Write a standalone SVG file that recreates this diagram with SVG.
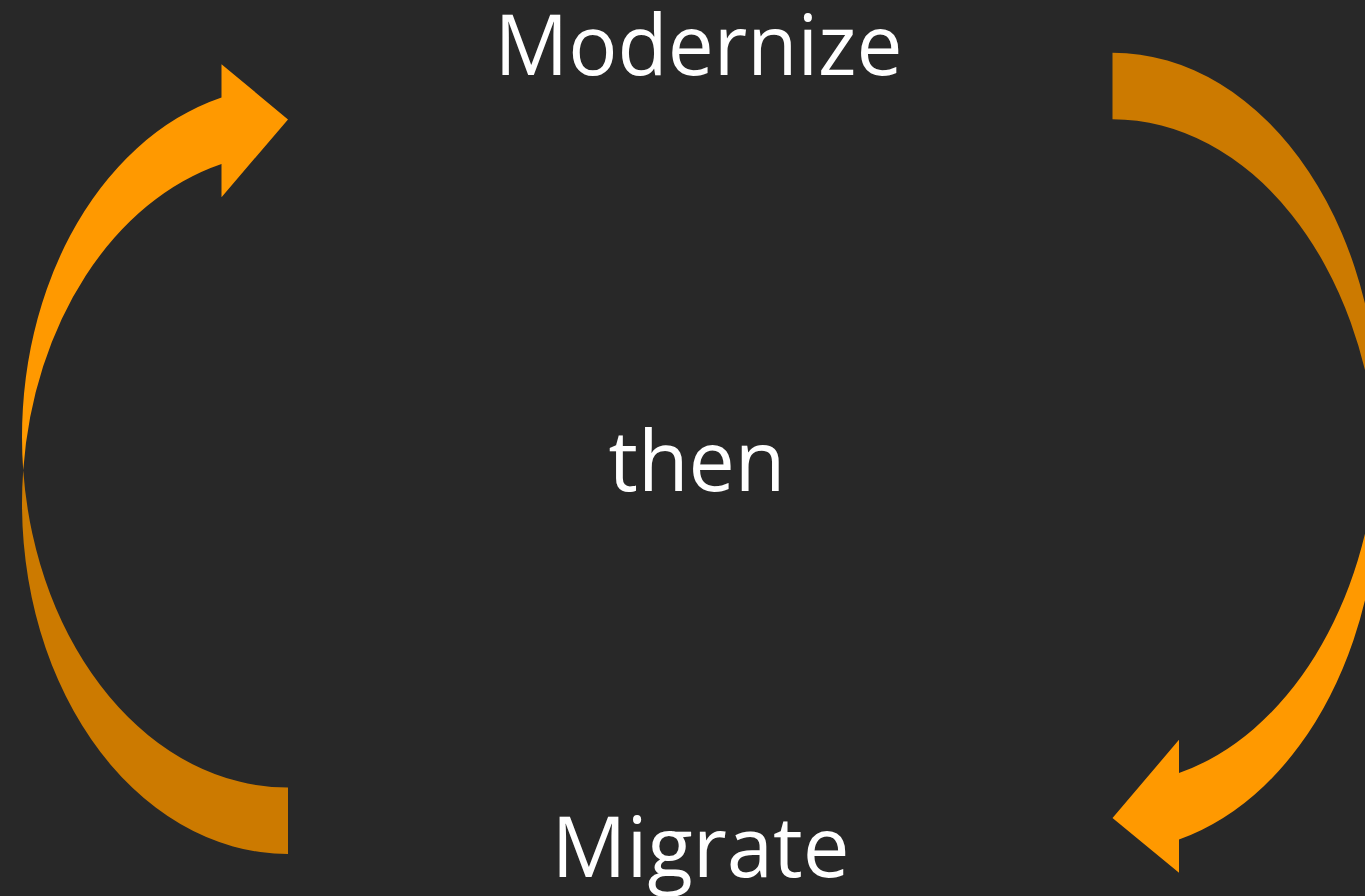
<svg xmlns="http://www.w3.org/2000/svg" width="1365" height="896" viewBox="0 0 1365 896">
  <style>
    .bg { fill: #282828; }
    .lbl { font-family: "Open Sans", "Noto Sans", "Liberation Sans", sans-serif; font-size: 85px; fill: #ffffff; text-anchor: middle; }
    .front { fill: #FF9900; }
    .back { fill: #CC7A00; }
  </style>
  <rect class="bg" x="0" y="0" width="1365" height="896"/>
  <g id="connectors">
    <g id="arrow-left">
      <path class="back" d="M288,854 A266,350.625 0 0 1 23.2,470.125 A266,350.625 0 0 0 288,787.5 Z"/>
      <path class="front" d="M23.2,470.125 A266,350.625 0 0 1 221.5,97.385 L221.5,64.135 L288,119.5 L221.5,197.135 L221.5,163.885 A266,350.625 0 0 0 23.2,470.125 Z"/>
    </g>
    <g id="arrow-right">
      <path class="back" d="M1112.5,52.7 A266,366 0 0 1 1377.4,451.95 A266,366 0 0 0 1112.5,119.2 Z"/>
      <path class="front" d="M1377.4,451.95 A266,366 0 0 1 1179,839.58 L1179,872.83 L1112.5,817.95 L1179,739.83 L1179,773.08 A266,366 0 0 0 1377.4,451.95 Z"/>
    </g>
  </g>
  <g id="node-modernize">
    <text class="lbl" x="698.5" y="74.5" textLength="408" lengthAdjust="spacingAndGlyphs">Modernize</text>
  </g>
  <g id="node-then">
    <text class="lbl" x="697" y="491" textLength="177" lengthAdjust="spacingAndGlyphs">then</text>
  </g>
  <g id="node-migrate">
    <text class="lbl" x="700.5" y="876.5" textLength="298" lengthAdjust="spacingAndGlyphs">Migrate</text>
  </g>
</svg>
